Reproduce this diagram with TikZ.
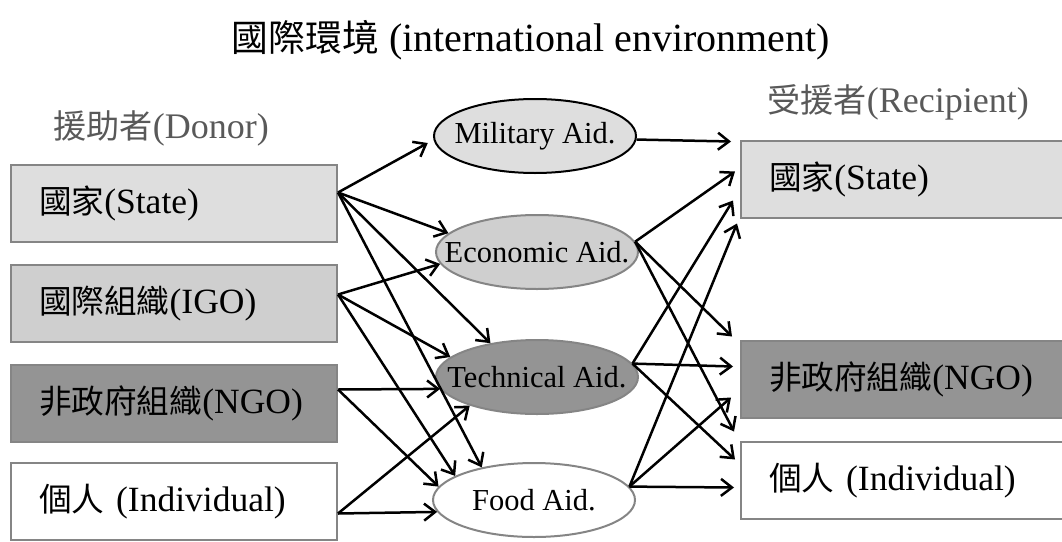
\documentclass[tikz,border=0pt]{standalone}
\usepackage{fontspec}
\setmainfont{Liberation Serif}
\newfontfamily\cjk[Scale=0.92]{Noto Sans CJK TC}
\usetikzlibrary{shapes.geometric,arrows.meta}

\definecolor{lite}{gray}{0.87}
\definecolor{mid}{gray}{0.81}
\definecolor{dark}{gray}{0.58}
\definecolor{frame}{gray}{0.52}
\definecolor{headgray}{gray}{0.35}

\newcommand{\aidname}[1]{\makebox[0pt]{#1}}

\tikzset{
    box/.style={draw=frame,line width=2pt,anchor=north west,minimum height=77pt,
        text width=270pt,inner xsep=28pt,align=left,font=\fontsize{35.5}{40}\selectfont},
    aid/.style={ellipse,draw=frame,line width=2pt,minimum width=202pt,minimum height=74pt,
        inner sep=0pt,font=\fontsize{30.5}{34}\selectfont},
    arr/.style={line width=2.5pt,-{Straight Barb[length=11pt,width=17pt]}}
}

\begin{document}
\begin{tikzpicture}[x=1pt,y=-1pt]
    \useasboundingbox (0,0) rectangle (1062,541);
    \node (title) at (531,40) {\fontsize{40}{46}\selectfont{\cjk 國際環境} (international environment)};
    \node[anchor=west,text=headgray,font=\fontsize{36}{42}\selectfont] (dHead) at (50,128) {{\cjk 援助者}(Donor)};
    \node[anchor=west,text=headgray,font=\fontsize{36}{42}\selectfont] (rHead) at (764,102) {{\cjk 受援者}(Recipient)};

    \node[box,fill=lite] (dState) at (10,164) {{\cjk 國家}(State)};
    \node[box,fill=mid] (dIGO) at (10,264) {{\cjk 國際組織}(IGO)};
    \node[box,fill=dark] (dNGO) at (10,364) {{\cjk 非政府組織}(NGO)};
    \node[box,fill=white] (dInd) at (10,462) {{\cjk 個人} (Individual)};

    \node[box,fill=lite,text width=266pt] (rState) at (740,140) {{\cjk 國家}(State)};
    \node[box,fill=dark,text width=266pt] (rNGO) at (740,340) {{\cjk 非政府組織}(NGO)};
    \node[box,fill=white,text width=266pt] (rInd) at (740,441) {{\cjk 個人} (Individual)};

    \node[aid,fill=lite,draw=black] (mil) at (535,136) {\aidname{Military Aid.}};
    \node[aid,fill=mid] (eco) at (537,252) {\aidname{Economic Aid.}};
    \node[aid,fill=dark] (tec) at (537,377) {\aidname{Technical Aid.}};
    \node[aid,fill=white] (food) at (534,500) {\aidname{Food Aid.}};

    \coordinate (dS) at ([yshift=11pt]dState.east);
    \coordinate (dI) at ([yshift=9pt]dIGO.east);
    \coordinate (dN) at ([yshift=14pt]dNGO.east);
    \coordinate (dP) at ([yshift=-12pt]dInd.east);

    \draw[arr] (dS) -- ([xshift=-7pt]mil.184);
    \draw[arr] (dS) -- (eco.168);
    \draw[arr] (dS) -- (tec.144);
    \draw[arr] (dS) -- (food.148);
    \draw[arr] (dI) -- (eco.187);
    \draw[arr] (dI) -- (tec.167);
    \draw[arr] (dI) -- (food.163);
    \draw[arr] (dN) -- (tec.187);
    \draw[arr] (dN) -- (food.172);
    \draw[arr] (dP) -- (tec.203);
    \draw[arr] (dP) -- (food.187);

    \draw[arr] (mil.358) -- ([xshift=-9pt,yshift=38pt]rState.west);
    \draw[arr] (eco.6) -- ([xshift=-5pt,yshift=8pt]rState.west);
    \draw[arr] (eco.6) -- ([xshift=-8pt,yshift=43pt]rNGO.west);
    \draw[arr] (eco.6) -- ([xshift=-6pt,yshift=49pt]rInd.west);
    \draw[arr] (tec.8) -- ([xshift=-7pt,yshift=-21pt]rState.west);
    \draw[arr] (tec.8) -- ([xshift=-7pt,yshift=13pt]rNGO.west);
    \draw[arr] (tec.8) -- ([xshift=-5pt,yshift=21pt]rInd.west);
    \draw[arr] (food.8) -- ([xshift=-3pt,yshift=-44pt]rState.west);
    \draw[arr] (food.8) -- ([xshift=-9pt,yshift=-18pt]rNGO.west);
    \draw[arr] (food.8) -- ([xshift=-6pt,yshift=-7pt]rInd.west);
\end{tikzpicture}
\end{document}
